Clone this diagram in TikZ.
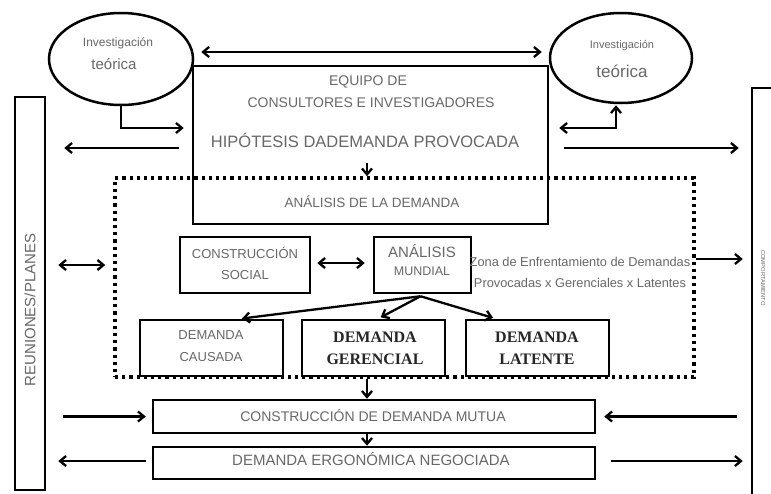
\documentclass[tikz,border=0pt]{standalone}
\usepackage{fontspec}
\setmainfont{Liberation Sans}
\newfontfamily\timesf{Liberation Serif}
\usetikzlibrary{arrows.meta,shapes.geometric}
\definecolor{txtgray}{HTML}{686868}
\begin{document}
\begin{tikzpicture}[x=1pt,y=-1pt,
  box/.style={draw,line width=2.5pt,inner sep=0pt},
  oval/.style={draw,ellipse,line width=2.5pt,inner sep=0pt},
  dotbox/.style={draw,line width=3.5pt,dash pattern=on 3.2pt off 4pt,inner sep=0pt},
  lbl/.style={text=txtgray,inner sep=0pt,align=center},
  blbl/.style={text=black!85,inner sep=0pt,align=center,font=\timesf\bfseries\fontsize{16}{22}\selectfont},
  fs/.style={font=\fontsize{#1}{18}\selectfont},
  tip/.tip={Straight Barb[length=6pt,width=10pt]},
  arr/.style={line width=2.3pt,-tip},
  darr/.style={line width=2.3pt,tip-tip}]
\useasboundingbox (0,0) rectangle (771,493);
\fill[white] (0,0) rectangle (771,493);

% ellipses
\node[oval,minimum width=144pt,minimum height=92pt] (lell) at (121,59) {};
\node[oval,minimum width=142pt,minimum height=90pt] (rell) at (621,58) {};
\node[lbl,font=\fontsize{12}{14}\selectfont] (lell1) at (118,43) {Investigación};
\node[lbl,font=\fontsize{15}{18}\selectfont] (lell2) at (114,64) {teórica};
\node[lbl,font=\fontsize{11}{13}\selectfont] (rell1) at (622,46) {Investigación};
\node[lbl,font=\fontsize{17}{20}\selectfont] (rell2) at (622,71) {teórica};

% main boxes
\node[box,minimum width=355pt,minimum height=158pt] (equipo) at (370.5,145) {};
\node[lbl,fs=14] (eq1) at (368,82) {EQUIPO DE};
\node[lbl,fs=14] (eq2) at (371,103) {CONSULTORES E INVESTIGADORES};
\node[lbl,fs=16.5] (hip) at (365,140) {HIPÓTESIS DADEMANDA PROVOCADA};
\node[lbl,fs=13.5] (anl) at (372,202) {ANÁLISIS DE LA DEMANDA};

\node[box,minimum width=30pt,minimum height=393pt] (reun) at (30,293.5) {};
\node[lbl,fs=15,rotate=90] (reuntxt) at (30,310) {REUNIONES/PLANES};
\node[box,minimum width=40pt,minimum height=412pt] (comp) at (772,294) {};
\node[lbl,fs=5.8,rotate=-90] (comptxt) at (763,278) {COMPORTAMIENTO};

\node[dotbox,minimum width=579pt,minimum height=199pt] (dotb) at (404.5,277.5) {};

\node[box,minimum width=130pt,minimum height=56pt] (cs) at (245,265) {};
\node[lbl,fs=13] (cstxt) at (245,263) {CONSTRUCCIÓN\\[3pt]SOCIAL};
\node[box,minimum width=97pt,minimum height=56pt] (am) at (422.5,265) {};
\node[lbl] (amtxt) at (422,260) {{\fontsize{15}{18}\selectfont ANÁLISIS}\\[6pt]{\fontsize{12.5}{15}\selectfont MUNDIAL}};
\node[lbl,fs=12.8] (zona) at (580,272) {Zona de Enfrentamiento de Demandas\\[3pt]Provocadas x Gerenciales x Latentes};

\node[box,minimum width=143pt,minimum height=56pt] (dc) at (211.5,348) {};
\node[lbl,fs=13] (dctxt) at (211,346) {DEMANDA\\[4pt]CAUSADA};
\node[box,minimum width=143pt,minimum height=56pt] (dg) at (373.5,348) {};
\node[blbl] (dgtxt) at (375,348) {DEMANDA\\GERENCIAL};
\node[box,minimum width=143pt,minimum height=56pt] (dl) at (537.5,348) {};
\node[blbl] (dltxt) at (537,348) {DEMANDA\\LATENTE};

\node[box,minimum width=442pt,minimum height=33pt] (mutua) at (374,416.5) {};
\node[lbl,fs=14] (mutuatxt) at (373,415) {CONSTRUCCIÓN DE DEMANDA MUTUA};
\node[box,minimum width=442pt,minimum height=32pt] (neg) at (374,463) {};
\node[lbl,fs=15] (negtxt) at (371,459) {DEMANDA ERGONÓMICA NEGOCIADA};

\coordinate (colx) at (367,0);
\coordinate (hipdown) at (367,163);

% connectors
\draw[darr,shorten <=7pt,shorten >=7pt] ([yshift=7pt]lell.east) -- ([yshift=7pt]lell.east -| rell.west);
\draw[arr,shorten >=8pt] (lell.south) |- ([yshift=17pt]equipo.west);
\draw[arr,shorten <=13pt,shorten >=18pt] ([yshift=-3pt]equipo.west) -- ([yshift=-3pt]equipo.west -| reun.east);
\draw[darr,shorten <=10pt,shorten >=1pt] ([yshift=17pt]equipo.east) -| ([xshift=-5pt]rell.south);
\draw[arr,shorten <=15pt,shorten >=12pt] ([yshift=-3pt]equipo.east) -- ([yshift=-3pt]equipo.east -| comp.west);
\draw[arr] (hipdown) -- (hipdown |- dotb.north);
\draw[darr,shorten <=12pt,shorten >=8pt] (reun.east |- cs) -- (dotb.west |- cs);
\draw[darr,shorten <=6pt,shorten >=8pt] ([yshift=2pt]cs.east) -- ([yshift=2pt]am.west);
\draw[arr,shorten >=8pt] ([yshift=6pt]dotb.east |- am) -- ([yshift=6pt]comp.west |- am);
\draw[arr,shorten >=2pt] ([xshift=-2pt,yshift=-2pt]am.south) -- ([xshift=28.5pt]dc.north);
\draw[arr,shorten >=3pt] ([xshift=-2pt,yshift=-2pt]am.south) -- ([xshift=4.5pt]dg.north);
\draw[arr,shorten >=3pt] ([xshift=-2pt,yshift=-2pt]am.south) -- ([xshift=-41.5pt]dl.north);
\draw[arr] (dotb.south -| colx) -- (mutua.north -| colx);
\draw[arr] (mutua.south -| colx) -- (neg.north -| colx);
\draw[arr,shorten <=17pt,shorten >=6pt] (reun.east |- mutua) -- (mutua.west);
\draw[arr,shorten <=14pt,shorten >=8pt] (comp.west |- mutua) -- (mutua.east);
\draw[arr,shorten <=6pt,shorten >=12pt] ([yshift=2pt]neg.west) -- ([yshift=2pt]neg.west -| reun.east);
\draw[arr,shorten <=15pt,shorten >=8pt] ([yshift=2pt]neg.east) -- ([yshift=2pt]neg.east -| comp.west);
\end{tikzpicture}
\end{document}
